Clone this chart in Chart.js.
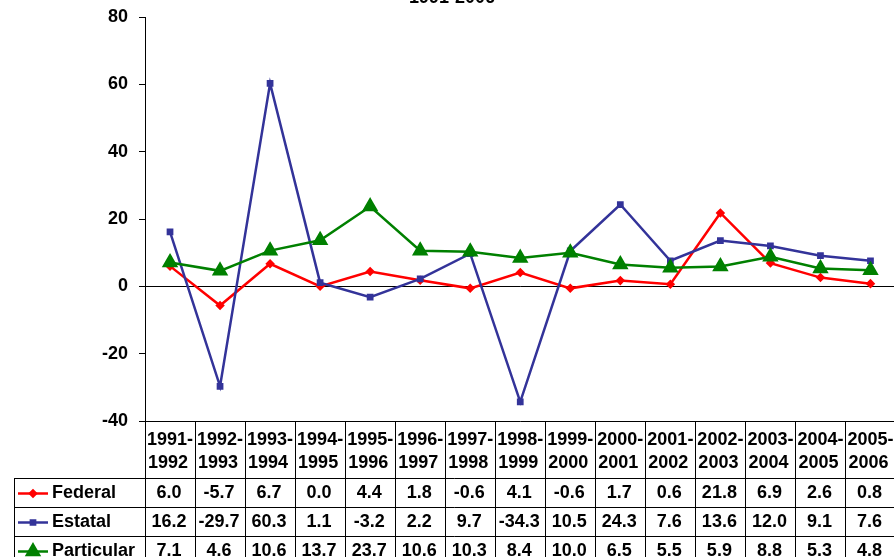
<!DOCTYPE html>
<html lang="es">
<head>
    <meta charset="UTF-8">
    <title>Crecimiento 1991-2006</title>
    <script src="https://cdn.jsdelivr.net/npm/chart.js"></script>
    <style>
        body { margin: 0; overflow: hidden; background: #fff; }
        canvas { display: block; }
    </style>
</head>
<body>
    <canvas id="growthChart" width="905" height="566"></canvas>

    <script>
        const categories = ["1991-1992", "1992-1993", "1993-1994", "1994-1995", "1995-1996",
            "1996-1997", "1997-1998", "1998-1999", "1999-2000", "2000-2001",
            "2001-2002", "2002-2003", "2003-2004", "2004-2005", "2005-2006"];
        const federal = [6.0, -5.7, 6.7, 0.0, 4.4, 1.8, -0.6, 4.1, -0.6, 1.7, 0.6, 21.8, 6.9, 2.6, 0.8];
        const estatal = [16.2, -29.7, 60.3, 1.1, -3.2, 2.2, 9.7, -34.3, 10.5, 24.3, 7.6, 13.6, 12.0, 9.1, 7.6];
        const particular = [7.1, 4.6, 10.6, 13.7, 23.7, 10.6, 10.3, 8.4, 10.0, 6.5, 5.5, 5.9, 8.8, 5.3, 4.8];
        const yTicks = [80, 60, 40, 20, 0, -20, -40];
        const titleText = "1991-2006";

        const fontFamily = "Arial, 'Liberation Sans', sans-serif";

        // draws the cut-off title and the data table under the plot
        const dataTable = {
            id: "dataTable",
            afterDraw(chart) {
                const ctx = chart.ctx;
                const area = chart.chartArea;
                const xs = chart.scales.x;
                const colW = (area.right - area.left) / categories.length;
                const headBottom = area.bottom + 57;
                const rowH = 29;
                const tableBottom = headBottom + rowH * 3;

                ctx.save();
                ctx.fillStyle = "#000";
                ctx.font = "bold 18px " + fontFamily;
                ctx.textAlign = "center";
                ctx.textBaseline = "alphabetic";
                ctx.fillText(titleText, 452, 3);

                ctx.strokeStyle = "#000";
                ctx.lineWidth = 1;
                ctx.beginPath();
                ctx.moveTo(area.left, area.bottom + 0.5);
                ctx.lineTo(area.right, area.bottom + 0.5);
                for (let r = 0; r < 3; r++) {
                    const y = Math.round(headBottom + r * rowH) + 0.5;
                    ctx.moveTo(14, y);
                    ctx.lineTo(area.right, y);
                }
                ctx.moveTo(14.5, headBottom);
                ctx.lineTo(14.5, tableBottom);
                for (let i = 0; i <= categories.length; i++) {
                    const x = Math.round(area.left + i * colW) + 0.5;
                    ctx.moveTo(x, area.bottom);
                    ctx.lineTo(x, tableBottom);
                }
                ctx.stroke();

                ctx.font = "bold 18px " + fontFamily;
                ctx.textBaseline = "middle";
                ctx.textAlign = "left";
                categories.forEach((c, i) => {
                    const x = xs.getPixelForValue(i) - colW / 2 + 2;
                    const parts = c.split("-");
                    ctx.fillText(parts[0] + "-", x, area.bottom + 19);
                    ctx.fillText(parts[1], x + 1, area.bottom + 42);
                });

                chart.data.datasets.forEach((ds, r) => {
                    const y = headBottom + r * rowH + rowH / 2 + 1;
                    ctx.fillStyle = "#000";
                    ds.data.forEach((v, i) => {
                        ctx.textAlign = "center";
                        ctx.fillText(v.toFixed(1), xs.getPixelForValue(i) - 1, y);
                    });
                    // legend key
                    ctx.strokeStyle = ds.borderColor;
                    ctx.lineWidth = 2.5;
                    ctx.beginPath();
                    ctx.moveTo(18, y);
                    ctx.lineTo(48, y);
                    ctx.stroke();
                    ctx.fillStyle = ds.borderColor;
                    Chart.helpers.drawPoint(ctx, {
                        pointStyle: ds.pointStyle,
                        radius: ds.pointRadius,
                        borderWidth: 1
                    }, 33, y);
                    ctx.fillStyle = "#000";
                    ctx.textAlign = "left";
                    ctx.fillText(ds.label, 52, y);
                });
                ctx.restore();
            }
        };

        function makeSet(label, data, color, style, radius, order) {
            return {
                label: label,
                data: data,
                borderColor: color,
                backgroundColor: color,
                pointBackgroundColor: color,
                pointBorderColor: color,
                pointStyle: style,
                pointRadius: radius,
                borderWidth: 2.5,
                tension: 0,
                order: order
            };
        }

        new Chart(document.getElementById("growthChart").getContext("2d"), {
            type: "line",
            data: {
                labels: categories,
                datasets: [
                    makeSet("Federal", federal, "#FF0000", "rectRot", 3, 2),
                    makeSet("Estatal", estatal, "#333399", "rect", 3, 1),
                    makeSet("Particular", particular, "#008000", "triangle", 7, 0)
                ]
            },
            options: {
                responsive: false,
                animation: false,
                layout: { padding: { top: 17, right: 2.5, bottom: 145, left: 0 } },
                plugins: {
                    legend: { display: false },
                    tooltip: { enabled: false }
                },
                scales: {
                    x: { display: false, offset: true },
                    y: {
                        min: -40,
                        max: 80,
                        afterFit(scale) {
                            scale.width = 145;
                            scale.paddingTop = 0;
                            scale.paddingBottom = 0;
                        },
                        afterBuildTicks(scale) { scale.ticks = yTicks.map(v => ({ value: v })); },
                        border: { display: true, color: "#000", width: 1 },
                        grid: {
                            drawOnChartArea: true,
                            color: c => (c.tick && c.tick.value === 0 ? "#000" : "rgba(0,0,0,0)"),
                            tickColor: "#000",
                            tickLength: 6
                        },
                        ticks: {
                            color: "#000",
                            padding: 11,
                            font: { family: fontFamily, size: 18, weight: "bold" }
                        }
                    }
                }
            },
            plugins: [dataTable]
        });
    </script>
</body>
</html>
